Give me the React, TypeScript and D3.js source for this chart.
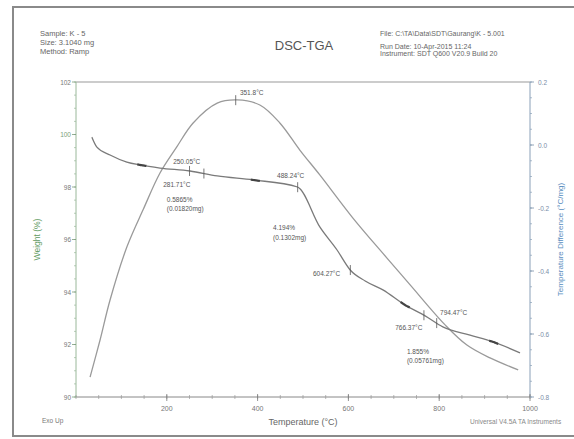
import * as d3 from 'd3';

// TGA weight curve
const tgaTemp = [35, 46, 75, 112, 141, 185, 251, 311, 390, 488, 537, 575, 604, 637, 676, 725, 769, 808, 868, 919, 978];
const tgaWeight = [99.9, 99.52, 99.22, 98.95, 98.84, 98.72, 98.61, 98.42, 98.27, 98.0, 96.48, 95.6, 94.84, 94.42, 94.08, 93.5, 93.09, 92.67, 92.36, 92.1, 91.68];

// DSC (temperature difference) curve
const dscTemp = [31, 53, 75, 112, 148, 185, 222, 258, 311, 355, 405, 449, 493, 537, 610, 685, 736, 813, 861, 912, 974];
const dscDiff = [-0.737, -0.619, -0.492, -0.324, -0.205, -0.089, -0.006, 0.07, 0.133, 0.143, 0.127, 0.07, -0.016, -0.095, -0.232, -0.359, -0.444, -0.571, -0.635, -0.676, -0.714];

const tempTicks = [200, 400, 600, 800, 1000];
const weightTicks = [90, 92, 94, 96, 98, 100, 102];
const diffTicks = [-0.8, -0.6, -0.4, -0.2, 0.0, 0.2];

// marker temperatures on the curves
const tgaMarks = [250.05, 281.71, 488.24, 604.27, 766.37, 794.47];
const dscMarks = [351.8];
const tangentMarks = [145, 395, 725, 920];

// annotation text, anchored in (temperature, weight) space
const notes = [
  { text: '351.8°C', t: 361, w: 101.5 },
  { text: '250.05°C', t: 214, w: 98.88 },
  { text: '281.71°C', t: 192, w: 98.0 },
  { text: '0.5865%', t: 200, w: 97.43 },
  { text: '(0.01820mg)', t: 200, w: 97.09 },
  { text: '488.24°C', t: 443, w: 98.34 },
  { text: '4.194%', t: 434, w: 96.36 },
  { text: '(0.1302mg)', t: 434, w: 95.98 },
  { text: '604.27°C', t: 522, w: 94.61 },
  { text: '794.47°C', t: 802, w: 93.12 },
  { text: '766.37°C', t: 703, w: 92.55 },
  { text: '1.855%', t: 729, w: 91.64 },
  { text: '(0.05761mg)', t: 729, w: 91.3 },
];

const W = 574;
const H = 439;
const L = 76, R = 530, T = 82, B = 397;
const font = '"Liberation Sans", Arial, sans-serif';

const x = d3.scaleLinear().domain([0, 1000]).range([L, R]);
const yW = d3.scaleLinear().domain([90, 102]).range([B, T]);
const yD = d3.scaleLinear().domain([-0.8, 0.2]).range([B, T]);

const tgaPts: [number, number][] = tgaTemp.map((t, i) => [t, tgaWeight[i]]);
const dscPts: [number, number][] = dscTemp.map((t, i) => [t, dscDiff[i]]);

const interp = (pts: [number, number][], t: number) => {
  const i = d3.bisector((p: [number, number]) => p[0]).left(pts, t);
  if (i <= 0) return pts[0][1];
  if (i >= pts.length) return pts[pts.length - 1][1];
  const a = pts[i - 1], b = pts[i];
  return a[1] + ((t - a[0]) / (b[0] - a[0])) * (b[1] - a[1]);
};

const tgaLine = d3.line<[number, number]>().x(d => x(d[0])).y(d => yW(d[1])).curve(d3.curveMonotoneX);
const dscLine = d3.line<[number, number]>().x(d => x(d[0])).y(d => yD(d[1])).curve(d3.curveCatmullRom.alpha(0.5));

export default function App() {
  const xMinor = d3.range(0, 1001, 50);
  const wMinor = d3.range(90, 102.01, 0.5);
  const dMinor = d3.range(-0.8, 0.201, 0.05);

  return (
    <svg width={W} height={H} style={{ position: 'absolute', left: 0, top: 0, background: '#fff' }} fontFamily={font}>
      <rect x={13} y={7} width={W - 12} height={429} fill="#fff" stroke="#8a8a8a" strokeWidth={2} />

      {/* header */}
      <g fontSize={7.5} fill="#666">
        <text x={40} y={36}>Sample: K - 5</text>
        <text x={40} y={45}>Size: 3.1040 mg</text>
        <text x={40} y={54}>Method: Ramp</text>
        <text x={380} y={36} fontSize={7}>File: C:\TA\Data\SDT\Gaurang\K - 5.001</text>
        <text x={380} y={49} fontSize={7}>Run Date: 10-Apr-2015 11:24</text>
        <text x={380} y={56} fontSize={7}>Instrument: SDT Q600 V20.9 Build 20</text>
      </g>
      <text x={304} y={50} fontSize={13} fill="#555" textAnchor="middle">DSC-TGA</text>

      {/* frame */}
      <line x1={L} x2={R} y1={T} y2={T} stroke="#999" strokeWidth={1} />
      <line x1={L} x2={L} y1={T} y2={B} stroke="#9ab89a" strokeWidth={1} />
      <line x1={R} x2={R} y1={T} y2={B} stroke="#8aa0b8" strokeWidth={1} />
      <line x1={L} x2={R} y1={B} y2={B} stroke="#888" strokeWidth={1} />

      {/* x axis */}
      {xMinor.map(t => (
        <line key={'xm' + t} x1={x(t)} x2={x(t)} y1={B - 2} y2={B + 2} stroke="#999" strokeWidth={0.7} />
      ))}
      {tempTicks.map(t => (
        <g key={'xt' + t}>
          <line x1={x(t)} x2={x(t)} y1={B - 3} y2={B + 4} stroke="#777" strokeWidth={0.8} />
          <text x={x(t)} y={411} fontSize={7} fill="#777" textAnchor="middle">{t}</text>
        </g>
      ))}
      <text x={303} y={425} fontSize={9} fill="#666" textAnchor="middle">Temperature (°C)</text>
      <text x={42} y={423} fontSize={6.5} fill="#777">Exo Up</text>
      <text x={470} y={424} fontSize={6.5} fill="#888">Universal V4.5A TA Instruments</text>

      {/* left axis */}
      {wMinor.map(v => (
        <line key={'wm' + v} x1={L - 2} x2={L} y1={yW(v)} y2={yW(v)} stroke="#9ab89a" strokeWidth={0.7} />
      ))}
      {weightTicks.map(v => (
        <g key={'wt' + v}>
          <line x1={L - 4} x2={L} y1={yW(v)} y2={yW(v)} stroke="#7a9a7a" strokeWidth={0.8} />
          <text x={71} y={yW(v) + 2.5} fontSize={6.5} fill={v === 100 ? '#7aa07a' : '#777'} textAnchor="end">{v}</text>
        </g>
      ))}
      <text transform={`translate(40,${(T + B) / 2}) rotate(-90)`} fontSize={8.5} fill="#5f9a5f" textAnchor="middle">Weight (%)</text>

      {/* right axis */}
      {dMinor.map(v => (
        <line key={'dm' + v.toFixed(2)} x1={R} x2={R + 2} y1={yD(v)} y2={yD(v)} stroke="#8aa0b8" strokeWidth={0.7} />
      ))}
      {diffTicks.map(v => (
        <g key={'dt' + v}>
          <line x1={R} x2={R + 4} y1={yD(v)} y2={yD(v)} stroke="#7a90a8" strokeWidth={0.8} />
          <text x={538} y={yD(v) + 2.5} fontSize={6.5} fill="#7a8ea8">{v.toFixed(1)}</text>
        </g>
      ))}
      <text transform={`translate(563,${(T + B) / 2}) rotate(-90)`} fontSize={8} fill="#5a8ec0" textAnchor="middle">Temperature Difference (°C/mg)</text>

      {/* curves */}
      <path d={dscLine(dscPts) || ''} fill="none" stroke="#9a9a9a" strokeWidth={1.3} />
      <path d={tgaLine(tgaPts) || ''} fill="none" stroke="#7a7a7a" strokeWidth={1.3} />

      {/* tangent markers */}
      {tangentMarks.map(t => {
        const seg = d3.range(t - 10, t + 10.1, 2).map(u => [u, interp(tgaPts, u)] as [number, number]);
        return <path key={'tg' + t} d={tgaLine(seg) || ''} fill="none" stroke="#444" strokeWidth={2.2} />;
      })}

      {/* point markers */}
      {tgaMarks.map(t => {
        const yy = yW(interp(tgaPts, t));
        return <line key={'tm' + t} x1={x(t)} x2={x(t)} y1={yy - 5} y2={yy + 5} stroke="#555" strokeWidth={0.8} />;
      })}
      {dscMarks.map(t => {
        const yy = yD(interp(dscPts, t));
        return <line key={'dm' + t} x1={x(t)} x2={x(t)} y1={yy - 5} y2={yy + 5} stroke="#555" strokeWidth={0.8} />;
      })}

      {/* notes */}
      {notes.map((n, i) => (
        <text key={'n' + i} x={x(n.t)} y={yW(n.w)} fontSize={6.5} fill="#555">{n.text}</text>
      ))}
    </svg>
  );
}
